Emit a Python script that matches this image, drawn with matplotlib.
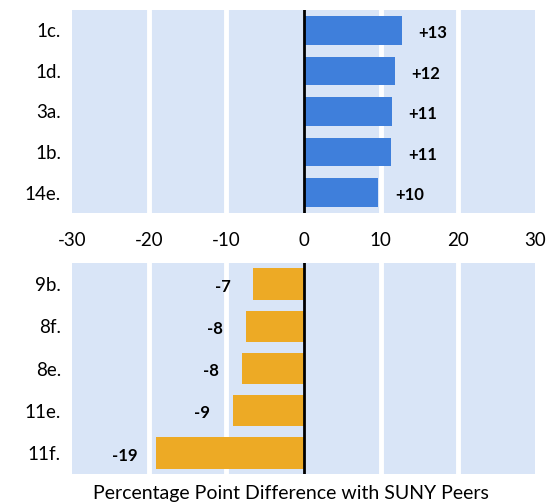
import matplotlib.pyplot as plt
import numpy as np

plt.rcParams['font.family'] = ['Lato', 'DejaVu Sans']

top_cats = ["1c.", "1d.", "3a.", "1b.", "14e."]
top_vals = [12.8, 11.8, 11.5, 11.4, 9.7]
top_labels = ["+13", "+12", "+11", "+11", "+10"]

bot_cats = ["9b.", "8f.", "8e.", "11e.", "11f."]
bot_vals = [-6.5, -7.5, -8.0, -9.2, -19.1]
bot_labels = ["-7", "-8", "-8", "-9", "-19"]

xticks = [-30, -20, -10, 0, 10, 20, 30]

BG = "#D9E5F7"
BLUE = "#3F7FDB"
ORANGE = "#EDAA25"

fig = plt.figure(figsize=(5.59, 5.03), dpi=100)
W, H = 559, 503
ax1 = fig.add_axes([72 / W, 1 - 213 / H, (535 - 72) / W, (213 - 10) / H])
ax2 = fig.add_axes([72 / W, 1 - 474 / H, (535 - 72) / W, (474 - 263) / H])

def style(ax, cats, vals, labels, color, height, show_ticks):
    y = np.arange(len(cats))
    ax.set_facecolor(BG)
    ax.set_xlim(-30, 30)
    ax.set_ylim(len(cats) - 0.5, -0.5)
    for g in [-20, -10, 10, 20]:
        ax.axvline(g, color="white", lw=3.5, zorder=1)
    ax.barh(y, vals, height=height, color=color, zorder=2)
    ax.axvline(0, color="black", lw=2, zorder=3)
    for yi, v, lab in zip(y, vals, labels):
        off = 4.0 if v > 0 else -4.0
        ax.text(v + off, yi + 0.03, lab, ha="center", va="center_baseline", fontsize=12,
                fontweight="bold", color="black", zorder=4)
    ax.set_yticks(y)
    ax.set_yticklabels(cats, fontsize=13.5)
    ax.set_xticks(xticks)
    if show_ticks:
        ax.set_xticklabels([str(t) for t in xticks], fontsize=13.5)
    else:
        ax.tick_params(labelbottom=False)
    ax.tick_params(length=0, pad=8)
    ax.tick_params(axis="x", pad=14)
    for s in ax.spines.values():
        s.set_visible(False)

style(ax1, top_cats, top_vals, top_labels, BLUE, 0.7, True)
style(ax2, bot_cats, bot_vals, bot_labels, ORANGE, 0.74, False)
fig.text(291 / W, 1 - 493 / H, "Percentage Point Difference with SUNY Peers",
         ha="center", va="center", fontsize=14)

fig.savefig("out.png", dpi=100)
